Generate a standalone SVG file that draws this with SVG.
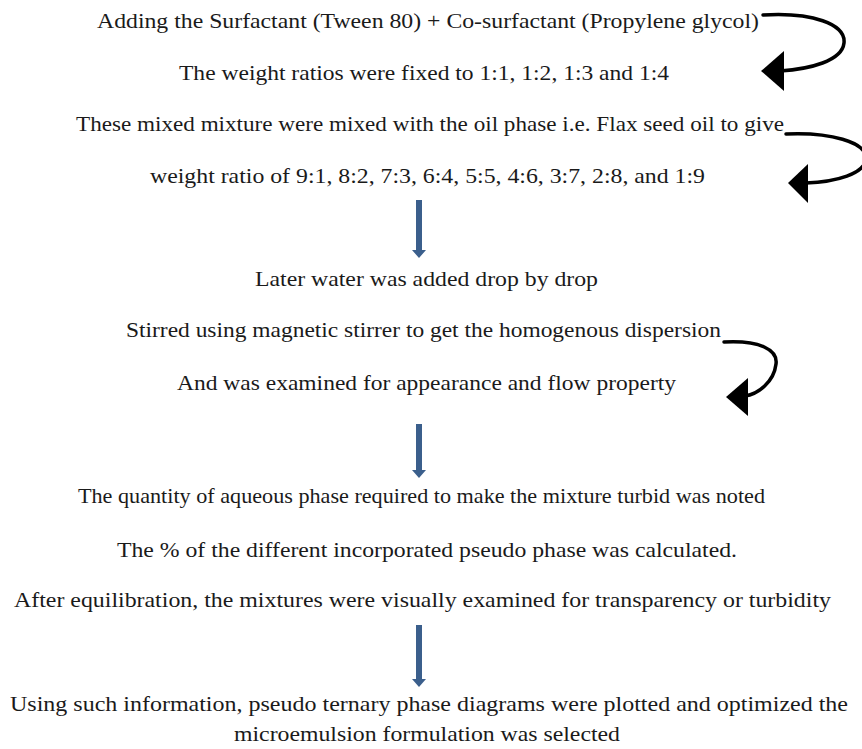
<svg xmlns="http://www.w3.org/2000/svg" width="862" height="749" viewBox="0 0 862 749">
<style>
.t{font-family:"Liberation Serif","Times New Roman",serif;font-size:21px;fill:#1a1a1a}
.blue{fill:#3b5f8c;stroke:none}
.curve{fill:none;stroke:#000;stroke-width:3.5;stroke-linecap:round}
.head{fill:#000}
</style>
<rect width="862" height="749" fill="#fff"/>
<g id="n1"><text class="t" x="97" y="28" textLength="662" lengthAdjust="spacingAndGlyphs">Adding the Surfactant (Tween 80) + Co-surfactant (Propylene glycol)</text></g>
<g id="n2"><text class="t" x="179" y="80" textLength="490" lengthAdjust="spacingAndGlyphs">The weight ratios were fixed to 1:1, 1:2, 1:3 and 1:4</text></g>
<g id="n3"><text class="t" x="76" y="131" textLength="708" lengthAdjust="spacingAndGlyphs">These mixed mixture were mixed with the oil phase i.e. Flax seed oil to give</text></g>
<g id="n4"><text class="t" x="150" y="183" textLength="555" lengthAdjust="spacingAndGlyphs">weight ratio of 9:1, 8:2, 7:3, 6:4, 5:5, 4:6, 3:7, 2:8, and 1:9</text></g>
<g id="n5"><text class="t" x="255" y="286" textLength="343" lengthAdjust="spacingAndGlyphs">Later water was added drop by drop</text></g>
<g id="n6"><text class="t" x="126" y="337" textLength="595" lengthAdjust="spacingAndGlyphs">Stirred using magnetic stirrer to get the homogenous dispersion</text></g>
<g id="n7"><text class="t" x="177" y="390" textLength="499" lengthAdjust="spacingAndGlyphs">And was examined for appearance and flow property</text></g>
<g id="n8"><text class="t" x="78" y="503" textLength="687" lengthAdjust="spacingAndGlyphs">The quantity of aqueous phase required to make the mixture turbid was noted</text></g>
<g id="n9"><text class="t" x="117" y="557" textLength="620" lengthAdjust="spacingAndGlyphs">The % of the different incorporated pseudo phase was calculated.</text></g>
<g id="n10"><text class="t" x="14" y="607" textLength="817" lengthAdjust="spacingAndGlyphs">After equilibration, the mixtures were visually examined for transparency or turbidity</text></g>
<g id="n11"><text class="t" x="10" y="711" textLength="838" lengthAdjust="spacingAndGlyphs">Using such information, pseudo ternary phase diagrams were plotted and optimized the</text>
<text class="t" x="234" y="741" textLength="386" lengthAdjust="spacingAndGlyphs">microemulsion formulation was selected</text></g>
<g id="connectors">
<path class="blue" d="M416 200 H422 V250 H426 L419 258 L412 250 H416 Z"/>
<path class="blue" d="M416 424 H422 V470 H426 L419 478 L412 470 H416 Z"/>
<path class="blue" d="M416 625 H422 V679 H426 L419 687 L412 679 H416 Z"/>
<path class="curve" d="M763 15 C812 12 846 24 844 43 C842 61 810 69 780 71"/>
<path class="head" d="M761 71 L784 51 L784 91 Z"/>
<path class="curve" d="M786 134 C830 132 866 142 866 158 C866 174 835 182 806 183"/>
<path class="head" d="M788 183 L808 164 L808 203 Z"/>
<path class="curve" d="M724 342 C760 340 778 350 776 364 C774 382 758 394 745 396"/>
<path class="head" d="M726 397 L748 378 L748 416 Z"/>
</g>
</svg>
